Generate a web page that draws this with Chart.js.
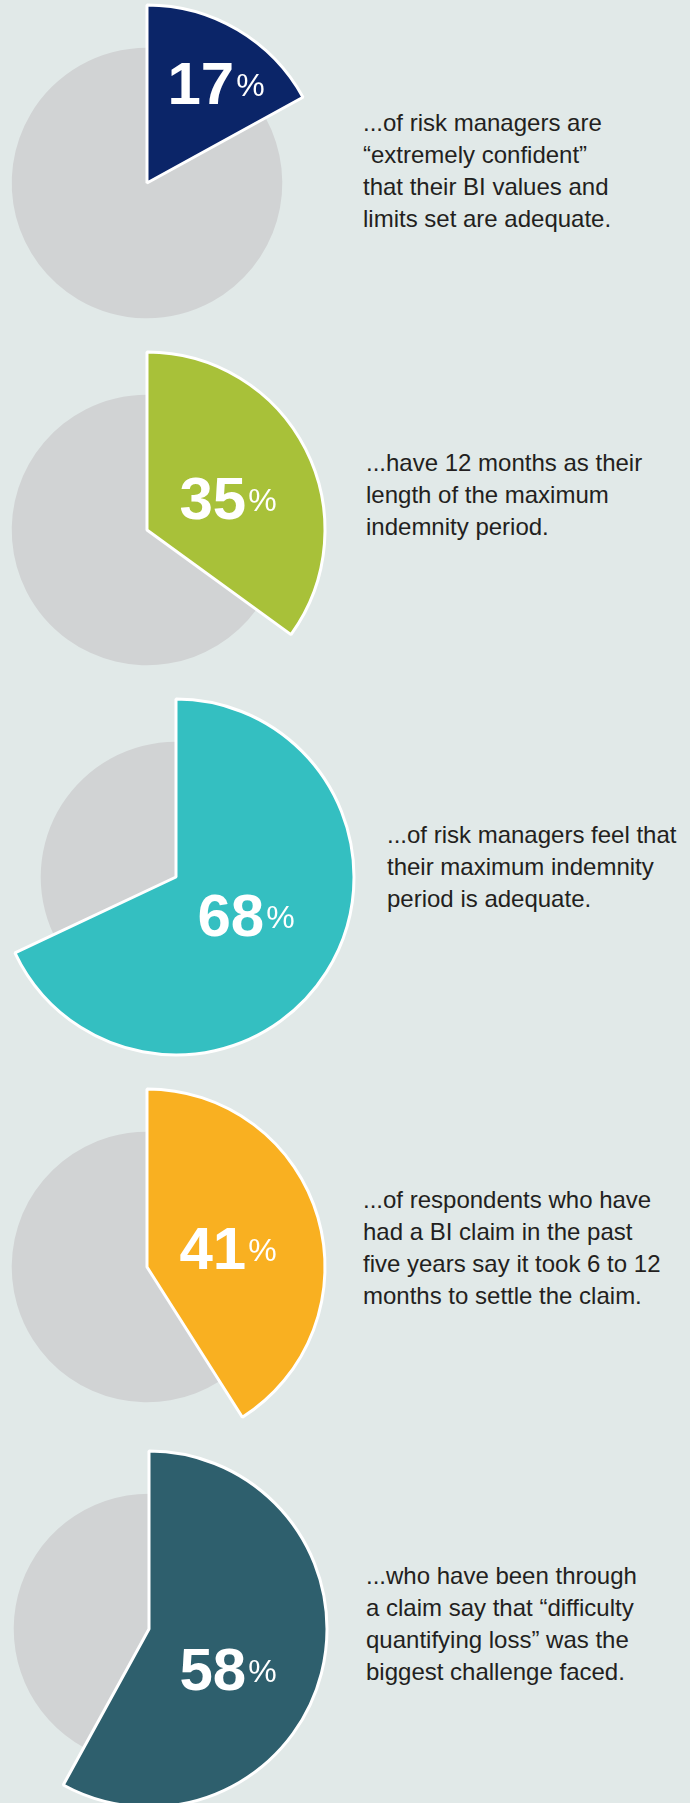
<!DOCTYPE html>
<html>
<head>
<meta charset="utf-8">
<script src="https://cdn.jsdelivr.net/npm/chart.js@4/dist/chart.umd.min.js"></script>
<style>
  html, body {
    margin: 0;
    padding: 0;
  }
  body {
    width: 690px;
    height: 1803px;
    background: #e1e9e8;
    position: relative;
    overflow: hidden;
    font-family: "Liberation Sans", Arial, Helvetica, sans-serif;
  }
  .pie {
    position: absolute;
    width: 400px;
    height: 400px;
  }
  .caption {
    position: absolute;
    font-size: 24px;
    line-height: 32px;
    color: #231f20;
    white-space: nowrap;
  }
</style>
</head>
<body>
<script>
// Survey results (% of respondents)
const values = [17, 35, 68, 41, 58];
const sliceColors = ['#0b2568', '#a8c139', '#34bfc1', '#f9b021', '#2e5f6d'];
const captions = [
    ['...of risk managers are', '\u201cextremely confident\u201d', 'that their BI values and', 'limits set are adequate.'],
    ['...have 12 months as their', 'length of the maximum', 'indemnity period.'],
    ['...of risk managers feel that', 'their maximum indemnity', 'period is adequate.'],
    ['...of respondents who have', 'had a BI claim in the past', 'five years say it took 6 to 12', 'months to settle the claim.'],
    ['...who have been through', 'a claim say that \u201cdifficulty', 'quantifying loss\u201d was the', 'biggest challenge faced.']
];

// where each pie centre, its label and caption block sit on the page
// (lx/ly = label offset from the pie centre)
const layout = [
    { cx: 147, cy: 183, tx: 363, ty: 107, lx: 69, ly: -100 },
    { cx: 147, cy: 530, tx: 366, ty: 447, lx: 81, ly: -32 },
    { cx: 176, cy: 877, tx: 387, ty: 819, lx: 70, ly: 38 },
    { cx: 147, cy: 1267, tx: 363, ty: 1184, lx: 81, ly: -19 },
    { cx: 149, cy: 1629, tx: 366, ty: 1560, lx: 79, ly: 40 }
];

const restColor = '#d1d3d4';
const restRatio = 0.76;   // grey remainder is drawn smaller than the highlighted slice

// shrink the remainder arc so the highlighted slice stands out
const shrinkRest = {
    id: 'shrinkRest',
    beforeDatasetsDraw(chart) {
        const meta = chart.getDatasetMeta(0);
        const rest = meta.data[0];
        rest.outerRadius = meta.controller.outerRadius * restRatio;
    }
};

// big "NN%" label inside the highlighted slice
const percentLabel = {
    id: 'percentLabel',
    afterDatasetsDraw(chart, args, opts) {
        const ctx = chart.ctx;
        const value = chart.data.datasets[0].data[1];
        const arc = chart.getDatasetMeta(0).data[1];
        const lx = arc.x + opts.dx;
        const ly = arc.y + opts.dy;

        const numFont = 'bold 60px "Liberation Sans", Arial, sans-serif';
        const pctFont = '32px "Liberation Sans", Arial, sans-serif';
        ctx.save();
        ctx.font = numFont;
        const numW = ctx.measureText(String(value)).width;
        ctx.font = pctFont;
        const pctW = ctx.measureText('%').width;
        const gap = 2;
        const left = lx - (numW + gap + pctW) / 2;
        const baseline = ly + 21;

        ctx.fillStyle = '#ffffff';
        ctx.textBaseline = 'alphabetic';
        ctx.textAlign = 'left';
        ctx.font = numFont;
        ctx.fillText(String(value), left, baseline);
        ctx.font = pctFont;
        ctx.fillText('%', left + numW + gap, baseline - 8);
        ctx.restore();
    }
};

values.forEach((value, i) => {
    const pos = layout[i];

    const wrap = document.createElement('div');
    wrap.className = 'pie';
    wrap.style.left = (pos.cx - 200) + 'px';
    wrap.style.top = (pos.cy - 200) + 'px';
    const canvas = document.createElement('canvas');
    canvas.width = 400;
    canvas.height = 400;
    wrap.appendChild(canvas);
    document.body.appendChild(wrap);

    const text = document.createElement('div');
    text.className = 'caption';
    text.style.left = pos.tx + 'px';
    text.style.top = pos.ty + 'px';
    text.innerHTML = captions[i].join('<br>');
    document.body.appendChild(text);

    // remainder first so the coloured slice is painted on top,
    // rotated so the slice still starts at 12 o'clock
    new Chart(canvas, {
        type: 'pie',
        data: {
            labels: ['Other', 'Result'],
            datasets: [{
                data: [100 - value, value],
                backgroundColor: [restColor, sliceColors[i]],
                borderColor: ['rgba(0,0,0,0)', '#ffffff'],
                borderWidth: [0, 3]
            }]
        },
        options: {
            responsive: false,
            animation: false,
            events: [],
            radius: 178,
            rotation: value * 3.6,
            layout: { padding: 0 },
            plugins: {
                legend: { display: false },
                tooltip: { enabled: false },
                percentLabel: { dx: pos.lx, dy: pos.ly }
            }
        },
        plugins: [shrinkRest, percentLabel]
    });
});
</script>
</body>
</html>
